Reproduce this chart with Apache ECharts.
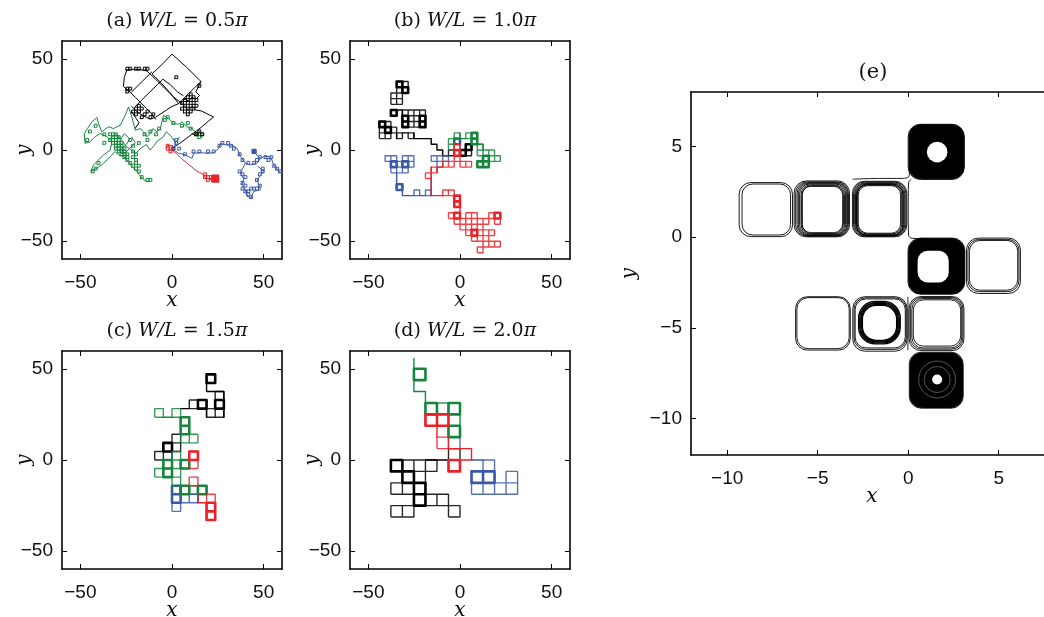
<!DOCTYPE html>
<html>
<head>
<meta charset="utf-8">
<script src="https://cdn.jsdelivr.net/npm/echarts@6/dist/echarts.min.js"></script>
<style>
html,body{margin:0;padding:0;background:#ffffff;}
#chart{width:1044px;height:617px;}
</style>
</head>
<body>
<div id="chart"></div>
<script>
// ================= data =================
const panelLetters = ['(a) ', '(b) ', '(c) ', '(d) '];
const ratioLabels = ['0.5', '1.0', '1.5', '2.0'];          // W/L in units of pi
const cellSizes = [0.5 * Math.PI, 1.0 * Math.PI, 1.5 * Math.PI, 2.0 * Math.PI]; // lattice cell = W/L
const walkTicks = [-50, 0, 50];
const walkRange = [-60, 60];
const cellTicks = [-10, -5, 0, 5];
const cellRange = [-12, 8];
const panelETitle = '(e)';

// ---- (a) W/L = 0.5pi : paths in data units, small loops as lattice cells ----
const aBlackPath = [
  [[0,1],[4,3.5],[8,6.5],[12,9.5],[16,12.5],[20,16],[22.7,18.2],[19,20],[16,21.5],[13,22],[11,24],[9,22],[7,24],[5,26],[7,28],[9,27],[11,29],[13,28],[15,30],[13,32],[15.8,37.7],[8,45.5],[0,52.8],[-5,47.5],[-10.9,41.9],[-6,37],[-1,31.5],[3.6,25.5],[9,31],[15.8,37.7]],
  [[-13.7,43.5],[-9,39],[-4,34],[1,29],[5,26]],
  [[-24.6,44],[-20,44.5],[-16,44],[-13.7,43.5]],
  [[-24.6,44],[-26,40],[-26.5,35],[-23,32],[-20,29],[-17,26],[-14,23],[-11,20],[-9,17]],
  [[-22,32],[-16,38],[-11,43]],
  [[-20,24],[-16,28],[-12,32],[-8,36],[-5,39],[-1,36],[3,32],[6,30]],
  [[-22,24],[-19,21],[-16,19],[-12,17],[-9,18],[-6,20],[-3,22],[0,24],[3.6,25.5]],
  [[-20,12],[-18,15],[-20,18],[-22,21]],
  [[11,9],[13,8],[15,10]]
];
const aBlackCells = [[-16,28],[-15,28],[-13,28],[-12,28],[-10,28],[-9,28],[1,25],[9,22],
  [3,14],[4,15],[5,14],[6,15],[5,16],[6,17],[7,16],[7,18],[4,17],[5,18],[3,16],[8,15],[8,17],[6,13],[7,14],[4,13],[6,19],[5,12],
  [8,5],[9,6],[10,5],
  [-13,14],[-12,15],[-12,13],[-11,14],[-10,12],[-9,13],[-8,11],[-7,12],[-11,11],[-13,12],[-14,13],
  [-16,21],[-15,21],[-16,20],[0,0]];
const aGreenPath = [
  [[16.4,6.9],[13.7,9.1],[10.9,11.8],[8.2,12.8],[5.5,15.5],[3.6,14.2],[0.9,14.6],[-1.8,17.3],[-4.6,19.1],[-5.5,15.5],[-6.4,11.8],[-8.2,10],[-10.4,11.8],[-11.8,9.1],[-13.7,7.3],[-15.5,10],[-17.3,11.8],[-20,10.9],[-21.9,18.2],[-23.7,23.7],[-25.5,19.1],[-28.2,13.7],[-31.9,11.8],[-34.6,12.8],[-38.3,10],[-40.1,14.6],[-41,17.9],[-43.7,15.5],[-46.1,11.8],[-47.9,9.1],[-47.4,3.6],[-44.6,4.6],[-41.9,7.3],[-39.2,9.1],[-35.5,7.3],[-32.8,4.6],[-33.7,0],[-37.3,-2.7],[-40.1,-5.5],[-42.8,-8.2],[-44.3,-11.8],[-41,-10],[-37.3,-7.3],[-33.7,-3.6],[-31,-0.9],[-29.1,-2.7],[-26.4,-3.6],[-23.7,-6.4],[-21.9,-9.1],[-19.1,-11.8],[-16.4,-15.5],[-13.7,-17.3]],
  [[-34,6],[-31,9],[-28,6],[-26,9],[-23,6],[-25,3],[-28,0],[-26,-2],[-23,1],[-20,4],[-22,7]],
  [[-30,8],[-27,5],[-25,2],[-22,0],[-20,-2],[-17,1],[-14,3],[-12,0],[-10,2],[-8,5],[-5,7],[-3,10],[0,7],[2,4],[4,7]]
];
const aGreenCells = [[-22,5],[-21,5],[-20,5],[-21,4],[-20,4],[-19,4],[-22,3],[-21,3],[-20,3],[-19,3],[-21,2],[-20,2],[-19,2],[-18,2],[-20,1],[-19,1],[-18,1],[-20,0],[-19,0],[-18,0],[-17,0],[-19,-1],[-18,-1],[-17,-1],[-18,-2],[-17,-2],[-16,-2],[-17,-3],[-16,-3],[-16,-4],[-15,-5],[-14,-6],[-13,-7],[-12,-8],[-11,-10],[-9,-11],[-8,-11],
  [-14,-1],[-13,-2],[-14,-3],[-13,-4],[-13,-5],[-12,-6],
  [-27,-7],[-28,-8],[-26,-5],[-29,6],[-30,3],[-27,8],[-24,2],[-24,5],[-15,3],[-14,1],[-12,2],[-10,5],[-8,6],[-5,7],[-3,10],[3,8],[6,7],[8,5],[9,4],[10,5],[5,9],[-6,5],[-9,3],[-2,11],[0,9]];
const aBluePath = [
  [[0.9,0],[3.6,-1.8],[7.3,-2.7],[10.9,-4.6],[11.8,-1.8],[15.5,-1.5],[19.1,-1.8],[22.7,-1.5],[25.5,0.9],[26.4,3.6],[30,2.7],[32.8,2.7],[35.5,0.9],[37.3,-3.6],[40,-7.3],[42.8,-8.2],[46.4,-7.3],[48.3,-4.6],[50,-3.6],[53.7,-3.6],[55.5,-8.2],[58.3,-11.8],[60,-12.8]],
  [[40,-7.3],[37.3,-12.7],[39.1,-16],[38,-19.1],[40,-22],[41,-25.5],[43,-26.5],[44.6,-22.8],[48.3,-21.9],[46.4,-16.4],[50,-11.8],[47,-9]],
  [[45.1,-1.3],[46.5,-3],[48.3,-4.6]],
  [[1,6],[2,3.5],[0.9,0]]
];
const aBlueCells = [[1,3],[1,2],[2,0],[4,-2],[7,-1],[9,-1],[12,-1],[14,-1],[16,1],[17,2],[19,2],[20,1],[21,0],[23,-2],[24,-4],[26,-5],[28,-5],[29,-4],[30,-3],[32,-3],[33,-4],[34,-3],[35,-6],[36,-7],[37,-8],
  [23,-8],[24,-9],[25,-10],[24,-12],[25,-13],[24,-14],[25,-15],[26,-16],[27,-17],[26,-15],[27,-14],[28,-14],[29,-14],[30,-13],[29,-11],[30,-9],[31,-8],[31,-7]];
const aBlueHeavy = [[28,-1]];
const aRedPath = [[[-2.5,2.5],[0.5,2.5],[0.5,-0.5],[1.5,-1.5],[3,-2.5],[4.5,-4],[6,-5.5],[7.5,-6.5],[9,-8],[10.5,-9],[12,-10.5],[13.5,-11.5],[15,-12.5],[16.5,-13],[17.5,-14.5],[19,-15.5],[20,-16],[21.5,-16.5],[23,-16],[25,-16.5]]];
const aRedCells = [[-2,0],[-2,1],[-1,0],[-1,-1],[11,-9],[11,-10],[12,-10],[12,-11],[13,-10]];
const aRedHeavy = [[14,-11],[15,-11],[14,-10],[15,-10]];

// ---- (b) W/L = pi : lattice cells and lattice paths ----
const bBlackCells = [[-11,11],[-10,11],[-11,10],[-10,10],[-12,9],[-11,9],[-12,8],[-11,8],[-12,6],[-10,6],[-9,6],[-8,6],[-7,6],[-10,5],[-9,5],[-8,5],[-7,5],[-10,4],[-9,4],[-8,4],[-7,4],[-14,4],[-13,4],[-14,3],[-13,3],[-12,3],[-14,2],[-13,2],[-11,2],[-9,2],[-2,-1],[-1,-1],[0,-1],[1,-1],[1,0]];
const bBlackBold = [[-11,11],[-10,10],[-12,6],[-10,5],[-10,4],[-7,5],[-7,4],[-14,4],[-13,3],[0,-1],[1,0]];
const bBlackPath = [[[-12,7],[-12,6]],[[-11,7],[-10,7],[-10,6]],[[-12,4],[-12,3]],[[-11,3],[-11,2]],[[-10,3],[-9,3]],[[-8,3],[-8,2],[-5,2],[-5,1],[-4,1],[-4,0],[-3,0],[-3,-1],[-2,-1]]];
const bGreenCells = [[-1,2],[1,2],[2,2],[2,1],[-2,1],[-2,0],[3,0],[3,-1],[4,-1],[5,-1],[6,-2],[5,-2],[4,-2],[4,-3],[3,-3]];
const bGreenBold = [[2,2],[2,1],[4,-2],[4,-3],[3,-3]];
const bGreenPath = [[[0,3],[0,2],[1,2]],[[3,1],[4,1],[4,0]]];
const bBlueCells = [[-13,-2],[-12,-2],[-10,-2],[-9,-2],[-12,-3],[-11,-3],[-10,-3],[-9,-3],[-12,-4],[-11,-4],[-10,-4],[-11,-7],[-8,-8],[-6,-8],[-5,-2],[-4,-2],[-3,-2],[-4,-3],[-1,1],[-1,0]];
const bBlueBold = [[-12,-3],[-10,-3],[-11,-7],[-1,1]];
const bBluePath = [[[-11,-4],[-11,-6]],[[-10,-7],[-10,-8],[-8,-8]],[[-7,-8],[-6,-8]],[[-5,-8],[-5,-7],[-5,-5]]];
const bRedCells = [[-1,0],[-1,-1],[-1,-2],[-3,-3],[-2,-3],[0,-3],[1,-3],[-5,-4],[-6,-5],[-3,-8],[-2,-8],[-1,-9],[-1,-10],[-2,-12],[-1,-12],[1,-12],[2,-12],[5,-12],[6,-12],[-1,-13],[0,-13],[2,-13],[3,-13],[4,-13],[6,-13],[0,-14],[1,-14],[3,-14],[1,-15],[2,-15],[3,-15],[4,-15],[5,-15],[2,-16],[3,-16],[4,-16],[4,-17],[5,-17],[6,-17],[3,-18]];
const bRedBold = [[-1,-9],[-1,-10],[-1,-12],[6,-12],[-1,-1],[2,-15]];
const bRedPath = [[[-5,-3],[-5,-8],[-3,-8]],[[0,-10],[0,-12]],[[-3,-3],[-4,-3],[-4,-4]]];

// ---- (c) W/L = 1.5pi ----
const cBlackCells = [[4,9],[5,7],[5,6],[5,5],[4,5],[2,6],[3,6],[0,2],[-1,1],[0,1],[-2,0],[-1,0]];
const cBlackBold = [[4,9],[5,6],[3,6],[-1,1]];
const cBlackPath = [[[4,9],[4,8],[6,8],[6,5]],[[1,6],[2,6]],[[3,6],[4,6],[4,5]]];
const cGreenCells = [[-2,5],[0,5],[1,4],[1,3],[1,2],[2,2],[0,0],[-1,-1],[0,-1],[1,-1],[-2,-2],[-1,-2],[0,-2],[0,-3],[1,-4],[3,-4]];
const cGreenBold = [[1,4],[1,3],[-1,-1],[1,-1],[-1,-2],[1,-4],[3,-4]];
const cGreenPath = [[[-1,5],[0,5]],[[2,-3],[3,-3],[3,-4]]];
const cRedCells = [[2,0],[2,-1],[2,-3],[4,-5],[4,-6],[4,-7]];
const cRedBold = [[4,-6],[4,-7],[2,0]];
const cRedPath = [[[3,-4],[3,-5],[4,-5]]];
const cBlueCells = [[0,-4],[0,-5],[1,-5],[2,-5],[0,-6],[1,-4]];
const cBlueBold = [[0,-5],[0,-4]];
const cBluePath = [[[2,-4],[3,-4],[3,-5]]];

// ---- (d) W/L = 2pi ----
const dBlackCells = [[-1,0],[-6,-1],[-5,-1],[-4,-1],[-3,-1],[-5,-2],[-4,-2],[-6,-3],[-5,-3],[-4,-3],[-4,-4],[-3,-4],[-2,-4],[-6,-5],[-5,-5],[-1,-5]];
const dBlackBold = [[-6,-1],[-5,-2],[-4,-3],[-4,-4]];
const dBlackPath = [[[-3,0],[-1,0]]];
const dGreenCells = [[-4,7],[-3,4],[-2,4],[-1,4],[-1,2]];
const dGreenBold = [[-4,7],[-3,4],[-1,4],[-1,2]];
const dGreenPath = [[[-4,8.9],[-4,8]],[[-4,7],[-4,6],[-3,6],[-3,5]],[[0,4],[0,3]]];
const dRedCells = [[-3,3],[-2,3],[-2,1],[-1,-1]];
const dRedBold = [[-3,3],[-2,3],[-1,-1]];
const dRedPath = [[[-2,3],[-2,2]],[[-1,1],[1,1],[1,0],[0,0]]];
const dBlueCells = [[-1,1],[2,-1],[1,-2],[2,-2],[4,-2],[1,-3],[2,-3],[3,-3],[4,-3]];
const dBlueBold = [[1,-2],[2,-2]];
const dBluePath = [[[1,0],[2,0]]];

// ---- (e) cellular-flow orbits: loops as [x0, x1, y0, y1] in data units ----
const eThinLoops = [
  [-9.34,-6.39,0.03,3.01],[-9.18,-6.50,0.12,2.93],
  [-6.30,-3.24,0.02,3.10],[-6.22,-3.30,0.05,3.05],[-6.14,-3.35,0.08,3.01],[-6.07,-3.40,0.10,2.97],[-6.00,-3.46,0.13,2.93],[-5.92,-3.52,0.16,2.88],[-5.85,-3.58,0.20,2.84],[-5.88,-3.62,0.25,2.80],
  [-3.08,-0.08,0.02,3.08],[-3.02,-0.13,0.05,3.04],[-2.96,-0.19,0.08,3.00],[-2.91,-0.24,0.11,2.96],[-2.86,-0.30,0.14,2.92],[-2.81,-0.36,0.18,2.88],[-2.76,-0.42,0.22,2.84],[-2.85,-0.28,0.10,2.90],
  [0.00,3.10,3.18,6.22],
  [-0.01,3.13,-3.14,-0.05],
  [3.22,6.20,-3.10,-0.05],[3.30,6.12,-3.00,-0.12],[3.38,6.05,-2.92,-0.18],
  [-6.22,-3.20,-6.22,-3.28],[-6.15,-3.26,-6.14,-3.33],
  [-3.06,-0.06,-6.28,-3.28],[-2.99,-0.11,-6.18,-3.34],[-2.93,-0.16,-6.10,-3.40],
  [0.05,3.08,-6.25,-3.27],[0.12,3.02,-6.17,-3.32],[0.20,2.96,-6.10,-3.38],[0.28,2.90,-6.00,-3.45],
  [0.06,3.04,-9.42,-6.34]
];
const eRoundLoops = [
  [-2.74,-0.44,-5.88,-3.54],[-2.68,-0.49,-5.82,-3.60],[-2.62,-0.55,-5.77,-3.65],[-2.57,-0.60,-5.73,-3.70],[-2.53,-0.64,-5.68,-3.76]
];
const eDenseCells = [[0.04,3.08,3.22,6.20],[0.03,3.10,-3.12,-0.08],[0.10,3.00,-9.38,-6.38]];
const eHoleCircles = [[1.60,4.69,0.57],[1.60,-7.84,0.28]];
const eHoleRects = [[0.52,2.24,-2.49,-0.75]];
const eFaintRings = [[1.60,-7.84,0.72],[1.60,-7.84,1.02]];
const eLinks = [
  [[-3.05,3.20],[-1.5,3.24],[-0.3,3.24],[0.02,3.32],[0.08,3.6]],
  [[0.15,3.18],[0.02,3.0],[0.0,1.5],[0.02,0.1],[0.2,-0.06],[1.0,-0.08]],
  [[-0.02,-3.3],[0.0,-4.7],[-0.02,-6.2]]
];

// ================= building the chart =================
const COL = { k: '#000000', g: '#15863c', b: '#3a58a8', r: '#ea2128' };
const SEP = ['-', '-'];
function cellSquares(cells, s) {
  const out = [];
  for (const [i, j] of cells) {
    out.push([i*s, j*s], [(i+1)*s, j*s], [(i+1)*s, (j+1)*s], [i*s, (j+1)*s], [i*s, j*s], SEP);
  }
  return out;
}
function latticePaths(paths, s) {
  const out = [];
  for (const p of paths) { for (const [i, j] of p) out.push([i*s, j*s]); out.push(SEP); }
  return out;
}

const series = [];
function addLine(grid, data, color, width, extra) {
  series.push(Object.assign({
    type: 'line', xAxisIndex: 2*grid, yAxisIndex: 2*grid, data: data,
    showSymbol: false, symbol: 'none', silent: true, animation: false,
    connectNulls: false, emphasis: { disabled: true },
    lineStyle: { color: color, width: width, join: 'round', cap: 'round' }
  }, extra || {}));
}
function addCustom(grid, data, renderItem) {
  series.push({ type: 'custom', coordinateSystem: 'cartesian2d', xAxisIndex: 2*grid, yAxisIndex: 2*grid,
    data: data, renderItem: renderItem, silent: true, animation: false, clip: true });
}
function roundRect(style, rf) {
  return function (params, api) {
    const a = api.coord([api.value(0), api.value(3)]);
    const b = api.coord([api.value(1), api.value(2)]);
    const w = b[0] - a[0], h = b[1] - a[1];
    return { type: 'rect', shape: { x: a[0], y: a[1], width: w, height: h, r: Math.min(w, h) * rf }, style: style };
  };
}
function circle(style) {
  return function (params, api) {
    const c = api.coord([api.value(0), api.value(1)]);
    const s = api.size([api.value(2), api.value(2)]);
    return { type: 'circle', shape: { cx: c[0], cy: c[1], r: s[0] }, style: style };
  };
}

// (a)
const sa = cellSizes[0];
addLine(0, latticePaths(aGreenPath, 1), COL.g, 1);
addLine(0, cellSquares(aGreenCells, sa), COL.g, 1);
addLine(0, latticePaths(aBlackPath, 1), COL.k, 1);
addLine(0, cellSquares(aBlackCells, sa), COL.k, 1);
addLine(0, latticePaths(aBluePath, 1), COL.b, 1);
addLine(0, cellSquares(aBlueCells, sa), COL.b, 1);
addLine(0, cellSquares(aBlueHeavy, sa), COL.b, 2.5);
addLine(0, latticePaths(aRedPath, 1), COL.r, 1);
addLine(0, cellSquares(aRedCells, sa), COL.r, 1);
addLine(0, cellSquares(aRedHeavy, sa), COL.r, 2.5);

// (b), (c), (d)
const lattice = [
  [bBlackCells, bBlackBold, bBlackPath, bBlueCells, bBlueBold, bBluePath, bGreenCells, bGreenBold, bGreenPath, bRedCells, bRedBold, bRedPath],
  [cBlackCells, cBlackBold, cBlackPath, cBlueCells, cBlueBold, cBluePath, cGreenCells, cGreenBold, cGreenPath, cRedCells, cRedBold, cRedPath],
  [dBlackCells, dBlackBold, dBlackPath, dBlueCells, dBlueBold, dBluePath, dGreenCells, dGreenBold, dGreenPath, dRedCells, dRedBold, dRedPath]
];
const order = [COL.k, COL.b, COL.g, COL.r];
lattice.forEach((arrs, n) => {
  const g = n + 1, s = cellSizes[g];
  for (let c = 0; c < 4; c++) {
    addLine(g, cellSquares(arrs[3*c], s), order[c], 1.4, { lineStyle: { color: order[c], width: 1.4, opacity: 0.85 } });
    addLine(g, latticePaths(arrs[3*c+2], s), order[c], 1.4);
    addLine(g, cellSquares(arrs[3*c+1], s), order[c], 2.6);
  }
});

// (e)
addCustom(4, eDenseCells, roundRect({ fill: '#000', stroke: '#000', lineWidth: 1 }, 0.22));
addCustom(4, eHoleCircles, circle({ fill: '#fff' }));
addCustom(4, eHoleRects, roundRect({ fill: '#fff' }, 0.32));
addCustom(4, eFaintRings, circle({ fill: 'none', stroke: '#ffffff', lineWidth: 0.6, opacity: 0.55 }));
addCustom(4, eThinLoops, roundRect({ fill: 'none', stroke: '#000', lineWidth: 0.9 }, 0.22));
addCustom(4, eRoundLoops, roundRect({ fill: 'none', stroke: '#000', lineWidth: 1.3 }, 0.4));
addLine(4, latticePaths(eLinks, 1), COL.k, 0.9, { smooth: 0.3 });

// axes and grids
const gridsPos = [
  { left: 62, top: 41, width: 220, height: 218 },
  { left: 350, top: 41, width: 220, height: 218 },
  { left: 62, top: 351, width: 220, height: 218 },
  { left: 350, top: 351, width: 220, height: 218 },
  { left: 691, top: 92, width: 362, height: 363 }
];
const grids = gridsPos.map(p => Object.assign({ show: false, containLabel: false, outerBoundsMode: 'none' }, p));
const fmt = v => (v < 0 ? '\u2212' + Math.abs(v) : String(v));
const xAxes = [], yAxes = [];
const nameStyle = { fontFamily: 'DejaVu Serif', fontStyle: 'italic', fontWeight: 'normal', fontSize: 20, color: '#111' };
for (let p = 0; p < 5; p++) {
  const range = p < 4 ? walkRange : cellRange;
  const ticks = p < 4 ? walkTicks : cellTicks;
  const base = () => ({
    type: 'value', gridIndex: p, min: range[0], max: range[1], splitLine: { show: false },
    axisLine: { show: true, onZero: false, lineStyle: { color: '#000', width: 1.6 } },
    axisTick: { show: true, inside: true, length: 5, customValues: ticks, lineStyle: { color: '#000', width: 1 } },
    axisLabel: { show: true, customValues: ticks, formatter: fmt, fontFamily: 'Liberation Sans', fontSize: 19, color: '#111', margin: 14 }
  });
  xAxes.push(Object.assign(base(), { position: 'bottom', name: 'x', nameLocation: 'middle', nameGap: 32, nameMoveOverlap: false, nameTextStyle: nameStyle }));
  const xt = base(); xt.position = 'top'; xt.axisLabel = { show: false };
  xAxes.push(xt);
  yAxes.push(Object.assign(base(), { position: 'left', name: 'y', nameLocation: 'middle', nameRotate: 90, nameMoveOverlap: false, nameGap: p < 4 ? 27 : 51, nameTextStyle: nameStyle, axisLabel: Object.assign(base().axisLabel, { margin: 9 }) }));
  const yr = base(); yr.position = 'right'; yr.axisLabel = { show: false };
  yAxes.push(yr);
}

const rich = {
  n: { fontFamily: 'DejaVu Serif', fontWeight: 'normal', fontSize: 19, color: '#111' },
  i: { fontFamily: 'DejaVu Serif', fontStyle: 'italic', fontWeight: 'normal', fontSize: 19, color: '#111' }
};
const titleCenters = [[172, 7], [460, 7], [172, 317], [460, 317]];
const titles = panelLetters.map((t, k) => ({
  text: '{n|' + t + '}{i|W/L}{n| = ' + ratioLabels[k] + '}{i|\u03c0}',
  left: titleCenters[k][0], top: titleCenters[k][1], textAlign: 'center',
  textStyle: { fontWeight: 'normal', rich: rich }
}));
titles.push({ text: '{n|' + panelETitle + '}', left: 868, top: 57, textAlign: 'center',
  textStyle: { fontWeight: 'normal', rich: { n: { fontFamily: 'DejaVu Serif', fontWeight: 'normal', fontSize: 21, color: '#111' } } } });

const chart = echarts.init(document.getElementById('chart'), null, { renderer: 'canvas' });
chart.setOption({
  animation: false,
  backgroundColor: '#ffffff',
  title: titles,
  grid: grids,
  xAxis: xAxes,
  yAxis: yAxes,
  series: series
});
</script>
</body>
</html>
